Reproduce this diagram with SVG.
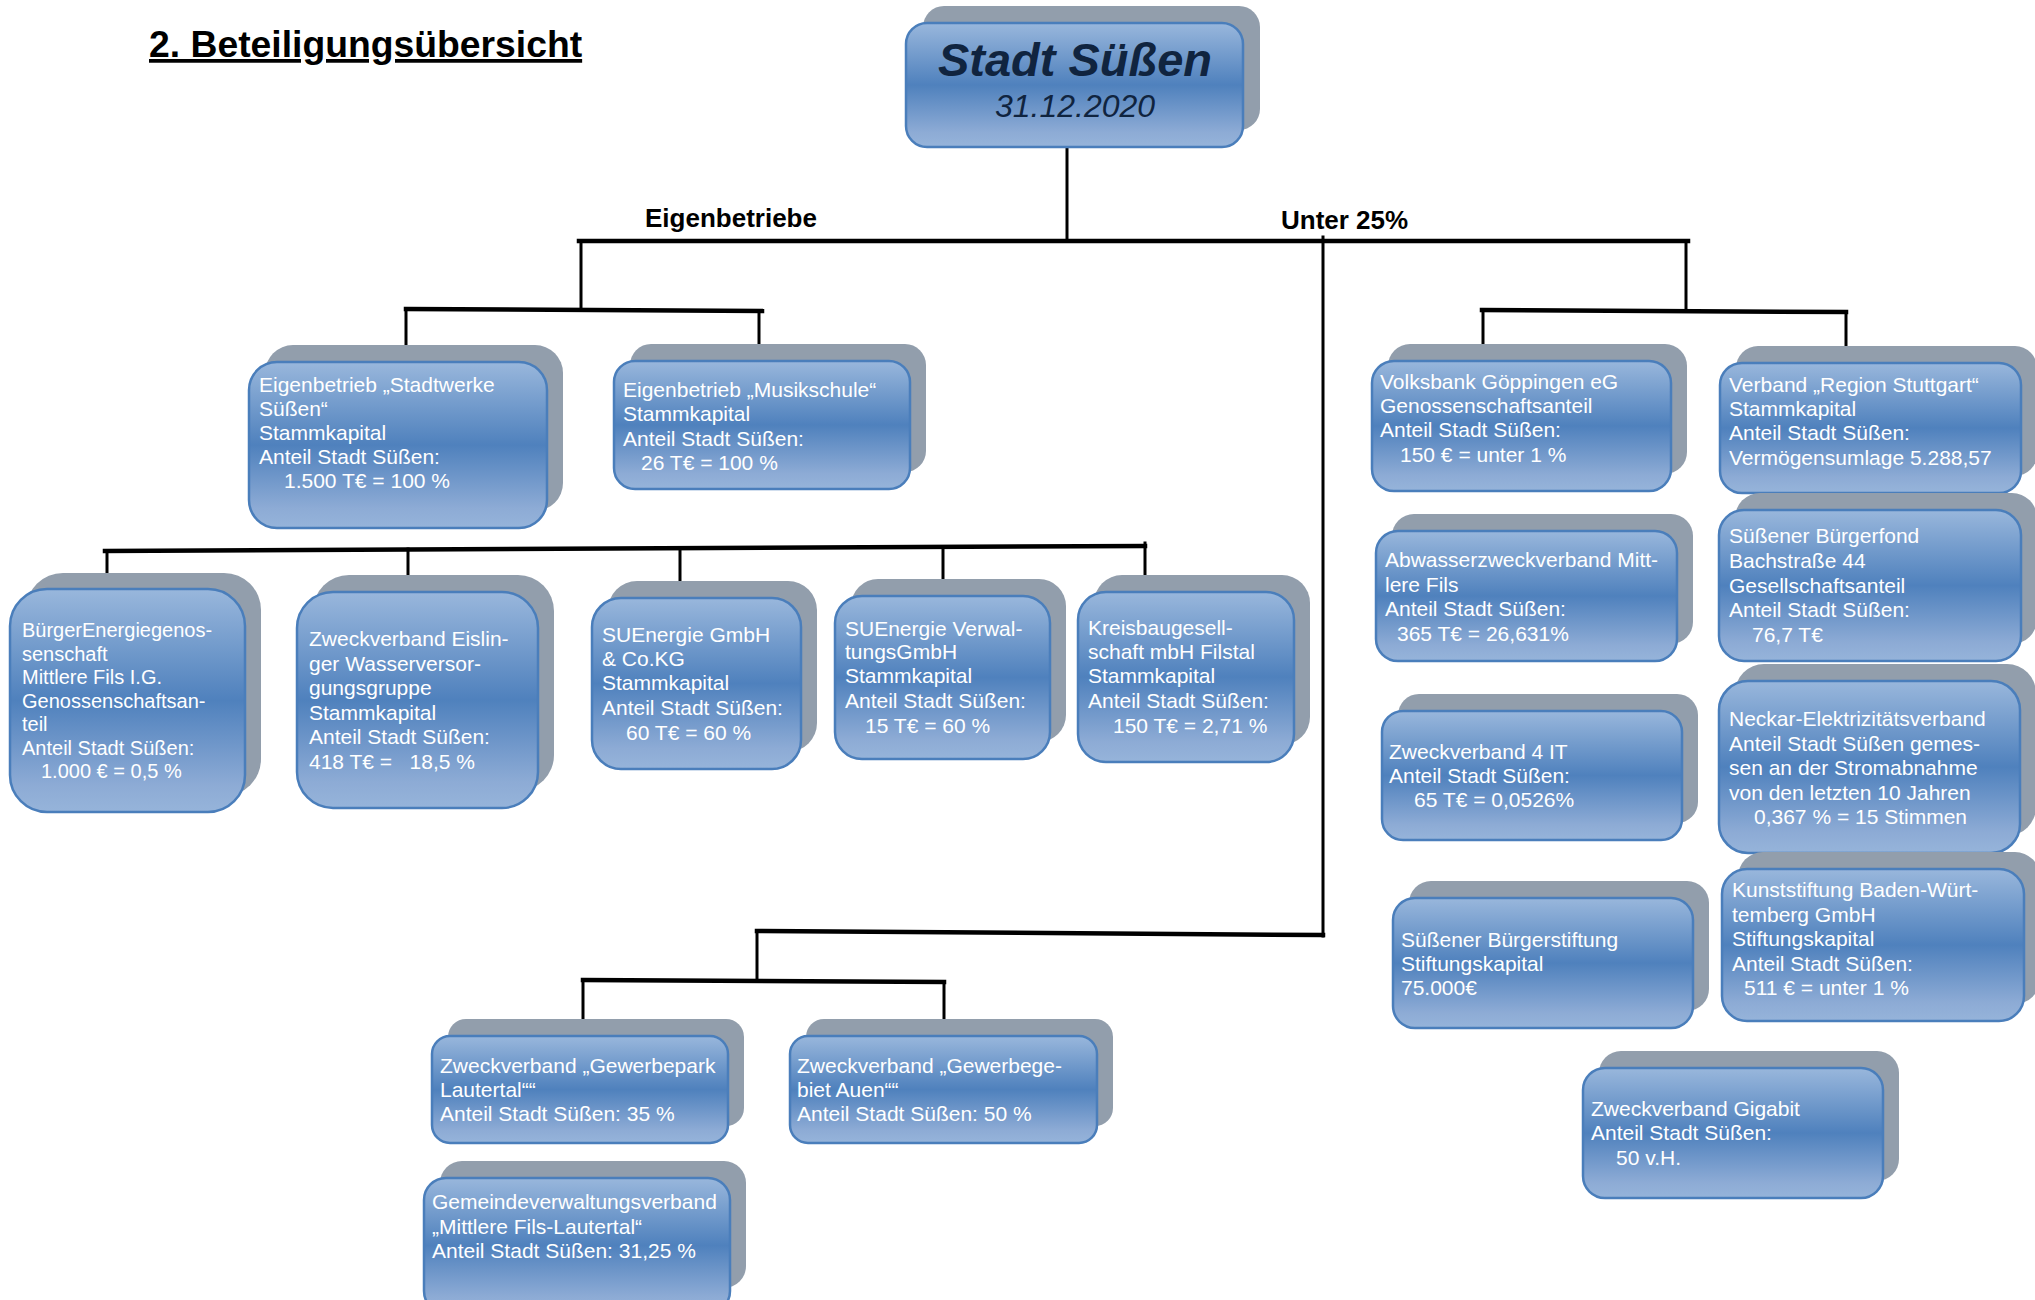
<svg xmlns="http://www.w3.org/2000/svg" width="2035" height="1300" viewBox="0 0 2035 1300">
<style>
.sh{fill:#929eac}
.bx{fill:url(#g);stroke:#4a7ebb;stroke-width:2.5}
.t{font-family:"Liberation Sans",Arial,sans-serif;font-size:21px;fill:#ffffff}
.ln{stroke:#000;stroke-width:3;fill:none;stroke-linecap:square}
.hl{stroke-width:4.5}
.lbl{font-family:"Liberation Sans",Arial,sans-serif;font-weight:bold;font-size:26px;fill:#000}
</style>
<defs>
<linearGradient id="g" x1="0" y1="0" x2="0" y2="1">
<stop offset="0" stop-color="#99b7dc"/>
<stop offset="0.5" stop-color="#4f81bd"/>
<stop offset="0.88" stop-color="#8dabd5"/>
<stop offset="1" stop-color="#96b4da"/>
</linearGradient>
</defs>
<rect width="2035" height="1300" fill="#fff"/>
<text x="149" y="57" font-family="Liberation Sans,Arial,sans-serif" font-weight="bold" font-size="37.3" text-decoration="underline" fill="#000">2. Beteiligungsübersicht</text>

<g id="connectors">
<line class="ln" x1="1067" y1="149" x2="1067" y2="241"/>
<line class="ln hl" x1="579" y1="241" x2="1688" y2="241"/>
<line class="ln" x1="581" y1="241" x2="581" y2="310"/>
<line class="ln hl" x1="406" y1="309" x2="762" y2="311"/>
<line class="ln" x1="406" y1="309" x2="406" y2="356"/>
<line class="ln" x1="759" y1="311" x2="759" y2="359"/>
<line class="ln" x1="1686" y1="241" x2="1686" y2="310"/>
<line class="ln hl" x1="1482" y1="310" x2="1846" y2="312"/>
<line class="ln" x1="1483" y1="310" x2="1483" y2="360"/>
<line class="ln" x1="1846" y1="312" x2="1846" y2="360"/>
<line class="ln hl" x1="105" y1="551" x2="1145" y2="546"/>
<line class="ln" x1="107" y1="551" x2="107" y2="588"/>
<line class="ln" x1="408" y1="549" x2="408" y2="591"/>
<line class="ln" x1="680" y1="548" x2="680" y2="597"/>
<line class="ln" x1="943" y1="547" x2="943" y2="594"/>
<line class="ln" x1="1145" y1="543" x2="1145" y2="592"/>
<line class="ln" x1="1323" y1="237" x2="1323" y2="936"/>
<line class="ln hl" x1="757" y1="931" x2="1323" y2="935"/>
<line class="ln" x1="757" y1="931" x2="757" y2="979"/>
<line class="ln hl" x1="583" y1="980" x2="944" y2="982"/>
<line class="ln" x1="583" y1="980" x2="583" y2="1029"/>
<line class="ln" x1="944" y1="982" x2="944" y2="1032"/>
</g>
<text class="lbl" x="645" y="227">Eigenbetriebe</text>
<text class="lbl" x="1281" y="229">Unter 25%</text>

<g id="n-stadt">
<rect class="sh" x="923" y="6" width="337" height="124" rx="21"/>
<rect class="bx" x="906" y="23" width="337" height="124" rx="21"/>
<text x="1075" y="76" text-anchor="middle" font-family="Liberation Sans,Arial,sans-serif" font-weight="bold" font-style="italic" font-size="47" fill="#10243f">Stadt Süßen</text>
<text x="1075" y="117" text-anchor="middle" font-family="Liberation Sans,Arial,sans-serif" font-style="italic" font-size="32" fill="#10243f">31.12.2020</text>
</g>

<g id="n-stadtwerke">
<rect class="sh" x="265" y="345" width="298" height="166" rx="28"/>
<rect class="bx" x="249" y="362" width="298" height="166" rx="28"/>
<text class="t"><tspan x="259" y="392">Eigenbetrieb „Stadtwerke</tspan><tspan x="259" y="416">Süßen“</tspan><tspan x="259" y="440">Stammkapital</tspan><tspan x="259" y="464">Anteil Stadt Süßen:</tspan><tspan x="284" y="488">1.500 T€ = 100 %</tspan></text>
</g>

<g id="n-musikschule">
<rect class="sh" x="630" y="344" width="296" height="128" rx="21"/>
<rect class="bx" x="614" y="361" width="296" height="128" rx="21"/>
<text class="t"><tspan x="623" y="397">Eigenbetrieb „Musikschule“</tspan><tspan x="623" y="421">Stammkapital</tspan><tspan x="623" y="446">Anteil Stadt Süßen:</tspan><tspan x="641" y="470">26 T€ = 100 %</tspan></text>
</g>

<g id="n-buergerenergie">
<rect class="sh" x="26" y="573" width="235" height="223" rx="37"/>
<rect class="bx" x="10" y="589" width="235" height="223" rx="37"/>
<text class="t" style="font-size:20px"><tspan x="22" y="637">BürgerEnergiegenos-</tspan><tspan x="22" y="660.5">senschaft</tspan><tspan x="22" y="684">Mittlere Fils I.G.</tspan><tspan x="22" y="707.5">Genossenschaftsan-</tspan><tspan x="22" y="731">teil</tspan><tspan x="22" y="754.5">Anteil Stadt Süßen:</tspan><tspan x="41" y="778">1.000 € = 0,5 %</tspan></text>
</g>

<g id="n-eislingen">
<rect class="sh" x="313" y="575" width="241" height="216" rx="36"/>
<rect class="bx" x="297" y="592" width="241" height="216" rx="36"/>
<text class="t" xml:space="preserve"><tspan x="309" y="646">Zweckverband Eislin-</tspan><tspan x="309" y="670.5">ger Wasserversor-</tspan><tspan x="309" y="695">gungsgruppe</tspan><tspan x="309" y="719.5">Stammkapital</tspan><tspan x="309" y="744">Anteil Stadt Süßen:</tspan><tspan x="309" y="768.5">418 T€ =   18,5 %</tspan></text>
</g>

<g id="n-suenergie">
<rect class="sh" x="608" y="581" width="209" height="171" rx="29"/>
<rect class="bx" x="592" y="598" width="209" height="171" rx="29"/>
<text class="t"><tspan x="602" y="642">SUEnergie GmbH</tspan><tspan x="602" y="666">&amp; Co.KG</tspan><tspan x="602" y="690">Stammkapital</tspan><tspan x="602" y="715">Anteil Stadt Süßen:</tspan><tspan x="626" y="740">60 T€ = 60 %</tspan></text>
</g>

<g id="n-verwaltung">
<rect class="sh" x="851" y="579" width="215" height="163" rx="27"/>
<rect class="bx" x="835" y="596" width="215" height="163" rx="27"/>
<text class="t"><tspan x="845" y="636">SUEnergie Verwal-</tspan><tspan x="845" y="659">tungsGmbH</tspan><tspan x="845" y="683">Stammkapital</tspan><tspan x="845" y="708">Anteil Stadt Süßen:</tspan><tspan x="865" y="733">15 T€ = 60 %</tspan></text>
</g>

<g id="n-kreisbau">
<rect class="sh" x="1094" y="575" width="216" height="170" rx="28"/>
<rect class="bx" x="1078" y="592" width="216" height="170" rx="28"/>
<text class="t"><tspan x="1088" y="635">Kreisbaugesell-</tspan><tspan x="1088" y="659">schaft mbH Filstal</tspan><tspan x="1088" y="683">Stammkapital</tspan><tspan x="1088" y="708">Anteil Stadt Süßen:</tspan><tspan x="1113" y="733">150 T€ = 2,71 %</tspan></text>
</g>

<g id="n-volksbank">
<rect class="sh" x="1388" y="344" width="299" height="130" rx="22"/>
<rect class="bx" x="1372" y="361" width="299" height="130" rx="22"/>
<text class="t"><tspan x="1380" y="389">Volksbank Göppingen eG</tspan><tspan x="1380" y="413">Genossenschaftsanteil</tspan><tspan x="1380" y="437">Anteil Stadt Süßen:</tspan><tspan x="1400" y="462">150 € = unter 1 %</tspan></text>
</g>

<g id="n-region">
<rect class="sh" x="1736" y="346" width="301" height="130" rx="22"/>
<rect class="bx" x="1720" y="363" width="301" height="130" rx="22"/>
<text class="t"><tspan x="1729" y="392">Verband „Region Stuttgart“</tspan><tspan x="1729" y="416">Stammkapital</tspan><tspan x="1729" y="440">Anteil Stadt Süßen:</tspan><tspan x="1729" y="465">Vermögensumlage 5.288,57</tspan></text>
</g>

<g id="n-abwasser">
<rect class="sh" x="1392" y="514" width="301" height="130" rx="22"/>
<rect class="bx" x="1376" y="531" width="301" height="130" rx="22"/>
<text class="t"><tspan x="1385" y="567">Abwasserzweckverband Mitt-</tspan><tspan x="1385" y="592">lere Fils</tspan><tspan x="1385" y="616">Anteil Stadt Süßen:</tspan><tspan x="1397" y="641">365 T€ = 26,631%</tspan></text>
</g>

<g id="n-buergerfond">
<rect class="sh" x="1735" y="493" width="302" height="151" rx="25"/>
<rect class="bx" x="1719" y="510" width="302" height="151" rx="25"/>
<text class="t"><tspan x="1729" y="543">Süßener Bürgerfond</tspan><tspan x="1729" y="568">Bachstraße 44</tspan><tspan x="1729" y="593">Gesellschaftsanteil</tspan><tspan x="1729" y="617">Anteil Stadt Süßen:</tspan><tspan x="1752" y="642">76,7 T€</tspan></text>
</g>

<g id="n-4it">
<rect class="sh" x="1398" y="694" width="300" height="129" rx="21"/>
<rect class="bx" x="1382" y="711" width="300" height="129" rx="21"/>
<text class="t"><tspan x="1389" y="759">Zweckverband 4 IT</tspan><tspan x="1389" y="783">Anteil Stadt Süßen:</tspan><tspan x="1414" y="807">65 T€ = 0,0526%</tspan></text>
</g>

<g id="n-neckar">
<rect class="sh" x="1735" y="664" width="301" height="172" rx="29"/>
<rect class="bx" x="1719" y="681" width="301" height="172" rx="29"/>
<text class="t"><tspan x="1729" y="726">Neckar-Elektrizitätsverband</tspan><tspan x="1729" y="751">Anteil Stadt Süßen gemes-</tspan><tspan x="1729" y="775">sen an der Stromabnahme</tspan><tspan x="1729" y="800">von den letzten 10 Jahren</tspan><tspan x="1754" y="824">0,367 % = 15 Stimmen</tspan></text>
</g>

<g id="n-buergerstiftung">
<rect class="sh" x="1409" y="881" width="300" height="130" rx="22"/>
<rect class="bx" x="1393" y="898" width="300" height="130" rx="22"/>
<text class="t"><tspan x="1401" y="947">Süßener Bürgerstiftung</tspan><tspan x="1401" y="971">Stiftungskapital</tspan><tspan x="1401" y="995">75.000€</tspan></text>
</g>

<g id="n-kunststiftung">
<rect class="sh" x="1738" y="852" width="302" height="152" rx="25"/>
<rect class="bx" x="1722" y="869" width="302" height="152" rx="25"/>
<text class="t"><tspan x="1732" y="897">Kunststiftung Baden-Würt-</tspan><tspan x="1732" y="922">temberg GmbH</tspan><tspan x="1732" y="946">Stiftungskapital</tspan><tspan x="1732" y="971">Anteil Stadt Süßen:</tspan><tspan x="1744" y="995">511 € = unter 1 %</tspan></text>
</g>

<g id="n-gigabit">
<rect class="sh" x="1599" y="1051" width="300" height="130" rx="22"/>
<rect class="bx" x="1583" y="1068" width="300" height="130" rx="22"/>
<text class="t"><tspan x="1591" y="1116">Zweckverband Gigabit</tspan><tspan x="1591" y="1140">Anteil Stadt Süßen:</tspan><tspan x="1616" y="1165">50 v.H.</tspan></text>
</g>

<g id="n-gewerbepark">
<rect class="sh" x="448" y="1019" width="296" height="107" rx="18"/>
<rect class="bx" x="432" y="1036" width="296" height="107" rx="18"/>
<text class="t"><tspan x="440" y="1073">Zweckverband „Gewerbepark</tspan><tspan x="440" y="1097">Lautertal““</tspan><tspan x="440" y="1121">Anteil Stadt Süßen: 35 %</tspan></text>
</g>

<g id="n-auen">
<rect class="sh" x="806" y="1019" width="307" height="107" rx="18"/>
<rect class="bx" x="790" y="1036" width="307" height="107" rx="18"/>
<text class="t"><tspan x="797" y="1073">Zweckverband „Gewerbege-</tspan><tspan x="797" y="1097">biet Auen““</tspan><tspan x="797" y="1121">Anteil Stadt Süßen: 50 %</tspan></text>
</g>

<g id="n-gvv">
<rect class="sh" x="440" y="1161" width="306" height="127" rx="22"/>
<rect class="bx" x="424" y="1178" width="306" height="135" rx="22"/>
<text class="t"><tspan x="432" y="1209">Gemeindeverwaltungsverband</tspan><tspan x="432" y="1234">„Mittlere Fils-Lautertal“</tspan><tspan x="432" y="1258">Anteil Stadt Süßen: 31,25 %</tspan></text>
</g>
</svg>
